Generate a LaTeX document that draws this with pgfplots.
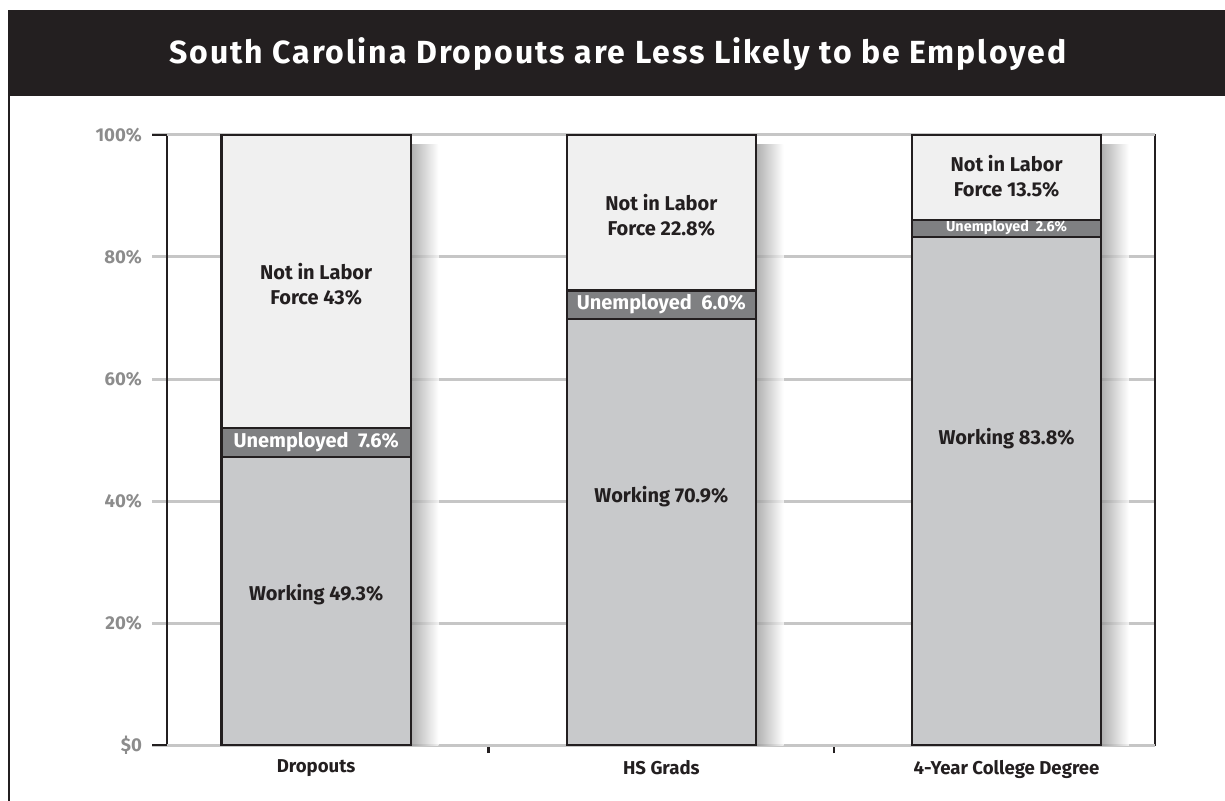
\documentclass[border=0pt]{standalone}
\usepackage{fontspec}
\setmainfont{Fira Sans}
\newfontfamily\titlefont[LetterSpace=6.0]{Fira Sans}
\usepackage{pgfplots}
\pgfplotsset{compat=1.18}
\definecolor{ink}{HTML}{231F20}
\definecolor{work}{HTML}{C8C9CB}
\definecolor{unemp}{HTML}{7F8082}
\definecolor{nilf}{HTML}{F0F0F0}
\definecolor{tickgray}{HTML}{8C8C8C}
\definecolor{gridgray}{HTML}{C6C6C6}
\begin{document}
\begin{tikzpicture}
\path[use as bounding box] (0,0) rectangle (612.5pt,-400.5pt);
\fill[ink] (4pt,-5pt) rectangle (612.5pt,-48pt);
\node[white, font=\titlefont\bfseries\fontsize{16}{19}\selectfont] at (309pt,-27pt) {South Carolina Dropouts are Less Likely to be Employed};
\draw[ink, line width=1.2pt] (4.6pt,-48pt) -- (4.6pt,-400.5pt);
\begin{axis}[
  at={(83.5pt,-372.5pt)}, anchor=south west,
  scale only axis, width=494pt, height=305pt,
  xmin=-0.432, xmax=2.43, ymin=0, ymax=100,
  ybar, bar width=0.548,
  axis line style={ink, line width=1.3pt},
  tick align=outside,
  xtick pos=left, ytick pos=left,
  major tick length=7.5pt,
  xtick={0,1,2}, xticklabels={Dropouts, HS Grads, 4-Year College Degree},
  x tick label style={font=\bfseries\fontsize{9.3}{11}\selectfont, text=ink, yshift=3.5pt},
  xtick style={draw=none},
  extra x ticks={0.5,1.5}, extra x tick labels={},
  extra x tick style={xtick style={draw=ink, line width=1.3pt}, major tick length=4pt},
  ytick={0,20,40,60,80,100},
  yticklabels={\$0,20\%,40\%,60\%,80\%,100\%},
  y tick label style={font=\bfseries\fontsize{9.3}{11}\selectfont, text=tickgray, xshift=-1.5pt},
  ytick style={draw=gridgray, line width=1.5pt},
  extra y ticks={0,100}, extra y tick labels={},
  extra y tick style={ytick style={draw=ink, line width=1.3pt}},
  ymajorgrids, grid style={gridgray, line width=1.5pt},
  clip=false,
]
\addplot[bar shift=0.314, bar width=0.08, draw=none, left color=black!42, right color=white, fill opacity=0.75] coordinates {(0,98.5)};
\addplot[bar shift=0.314, bar width=0.08, draw=none, left color=black!42, right color=white, fill opacity=0.75] coordinates {(1,98.5)};
\addplot[bar shift=0.314, bar width=0.08, draw=none, left color=black!42, right color=white, fill opacity=0.75] coordinates {(2,98.5)};
\addplot[bar shift=0, fill=nilf, draw=ink, line width=1.2pt] coordinates {(0,100) (1,100) (2,100)};
\addplot[bar shift=0, fill=unemp, draw=ink, line width=1.2pt] coordinates {(0,52.0) (1,74.5) (2,86.1)};
\addplot[bar shift=0, fill=work, draw=ink, line width=1.2pt] coordinates {(0,47.2) (1,69.8) (2,83.3)};
\node[font=\bfseries\fontsize{10}{12.5}\selectfont, text=ink, align=center] at (axis cs:0,75.6) {Not in Labor\\Force 43\%};
\node[font=\bfseries\fontsize{10}{12.5}\selectfont, text=white] at (axis cs:0,49.7) {Unemployed\ \ 7.6\%};
\node[font=\bfseries\fontsize{10}{12.5}\selectfont, text=ink] at (axis cs:0,24.6) {Working 49.3\%};
\node[font=\bfseries\fontsize{10}{12.5}\selectfont, text=ink, align=center] at (axis cs:1,86.9) {Not in Labor\\Force 22.8\%};
\node[font=\bfseries\fontsize{10}{12.5}\selectfont, text=white] at (axis cs:1,72.2) {Unemployed\ \ 6.0\%};
\node[font=\bfseries\fontsize{10}{12.5}\selectfont, text=ink] at (axis cs:1,40.7) {Working 70.9\%};
\node[font=\bfseries\fontsize{10}{12.5}\selectfont, text=ink, align=center] at (axis cs:2,93.3) {Not in Labor\\Force 13.5\%};
\node[font=\bfseries\fontsize{7.2}{9}\selectfont, text=white] at (axis cs:2,84.8) {Unemployed\ \ 2.6\%};
\node[font=\bfseries\fontsize{10}{12.5}\selectfont, text=ink] at (axis cs:2,50.2) {Working 83.8\%};
\end{axis}
\end{tikzpicture}
\end{document}
